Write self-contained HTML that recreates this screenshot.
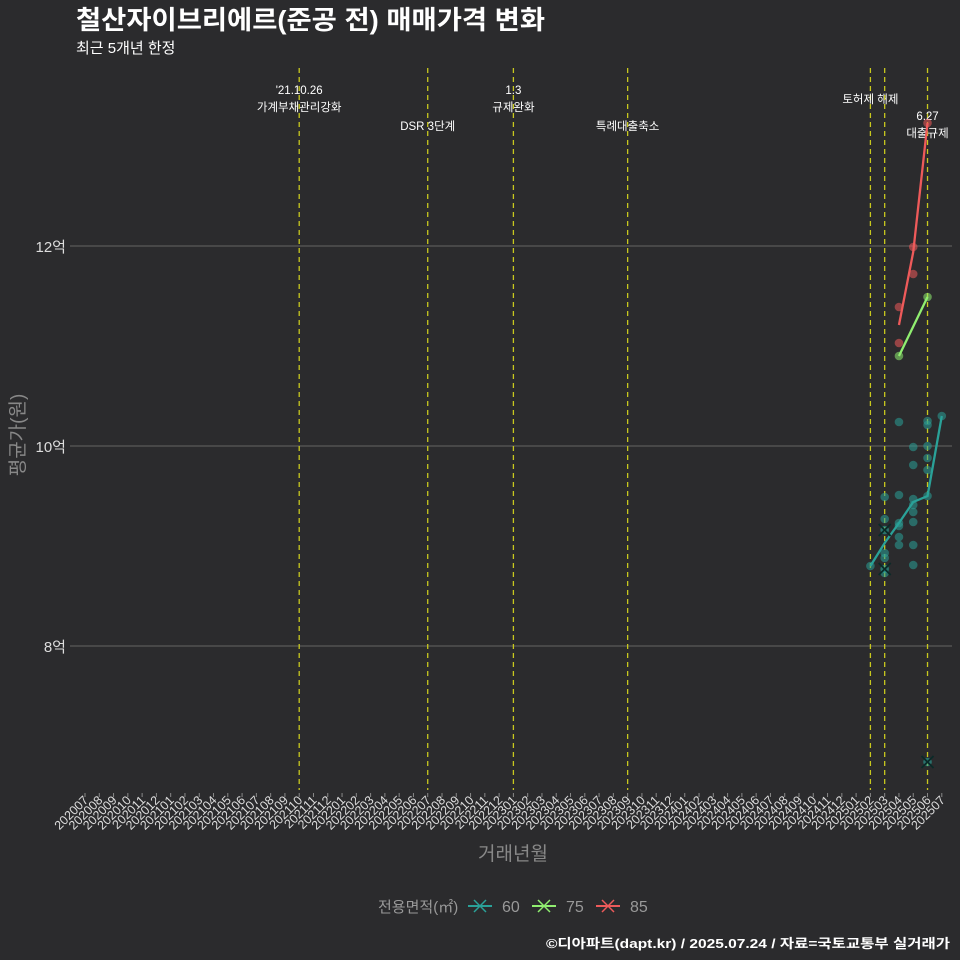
<!DOCTYPE html>
<html><head><meta charset="utf-8">
<style>
html,body{margin:0;padding:0;background:#2b2b2d;}
svg{display:block;font-family:"Liberation Sans","Noto Sans CJK KR",sans-serif;}
</style></head>
<body>
<svg id="chart" width="960" height="960" viewBox="0 0 960 960">
<rect width="960" height="960" fill="#2b2b2d"/>
<text x="76" y="29" font-size="26" font-weight="bold" fill="#ffffff" textLength="469" lengthAdjust="spacingAndGlyphs">철산자이브리에르(준공 전) 매매가격 변화</text>
<text x="76" y="53" font-size="15" fill="#ffffff">최근 5개년 한정</text>
<g id="grid"></g><g id="vlines"></g><g id="marks"></g><g id="axes"></g>
<text x="0" y="0" transform="translate(24,435) rotate(-90)" text-anchor="middle" font-size="19" fill="#888">평균가(원)</text>
<text x="513" y="860" text-anchor="middle" font-size="19" fill="#888">거래년월</text>
<g>
<text x="378" y="912" font-size="15" fill="#999">전용면적(㎡)</text>
<g id="legend"></g>
</g>
<text x="950" y="948" text-anchor="end" font-size="13" font-weight="bold" fill="#ffffff" textLength="404" lengthAdjust="spacingAndGlyphs">©디아파트(dapt.kr) / 2025.07.24 / 자료=국토교통부 실거래가</text>
</svg>
<script>
const months = [];
for (let y = 2020, m = 7; !(y === 2025 && m === 8); ) { months.push('' + y + (m < 10 ? '0' : '') + m); m++; if (m > 12) { m = 1; y++; } }
const yTicks = [8, 10, 12];
const yTickLabels = ['8억', '10억', '12억'];
const eventMonths = ['202110', '202207', '202301', '202309', '202502', '202503', '202506'];
const eventLabels = [["'21.10.26", '가계부채관리강화'], ['DSR 3단계'], ['1.3', '규제완화'], ['특례대출축소'], ['토허제 해제'], [], ['6.27', '대출규제']];
const eventLabelY = [90, 126, 90, 126, 99, 0, 116];
const seriesNames = ['60', '75', '85'];
const seriesColors = ['#2aa198', '#90ee70', '#ee5a5a'];
const line60Months = ['202502', '202503', '202504', '202505', '202506', '202507'];
const line60Values = [8.8, 9.03, 9.23, 9.44, 9.5, 10.3];
const line75Months = ['202504', '202506'];
const line75Values = [10.9, 11.49];
const line85Months = ['202504', '202505', '202506'];
const line85Values = [11.21, 11.94, 13.23];
const pts60Months = ['202502', '202503', '202503', '202503', '202503', '202503', '202504', '202504', '202504', '202504', '202504', '202504', '202505', '202505', '202505', '202505', '202505', '202505', '202505', '202505', '202506', '202506', '202506', '202506', '202506', '202506', '202507'];
const pts60Values = [8.8, 9.49, 9.27, 8.93, 8.88, 8.73, 10.24, 9.51, 9.23, 9.2, 9.09, 9.01, 9.99, 9.81, 9.47, 9.41, 9.34, 9.24, 9.01, 8.81, 10.25, 10.21, 10.0, 9.88, 9.76, 9.5, 10.3];
const pts75Months = ['202504', '202506'];
const pts75Values = [10.9, 11.49];
const pts85Months = ['202504', '202504', '202505', '202505', '202506'];
const pts85Values = [11.39, 11.03, 11.99, 11.72, 13.23];
const cancelMonths = ['202503', '202503', '202506'];
const cancelValues = [9.16, 8.77, 6.84];

const NS = 'http://www.w3.org/2000/svg';
const X0 = 85, DX = 14.28, PT = 68, PB = 790, PL = 70, PR = 952;
function xs(mo) { return X0 + months.indexOf(mo) * DX; }
function ys(v) { return 446 - (v - 10) * 100; }
function mk(tag, attrs, parent) { const e = document.createElementNS(NS, tag); for (const k in attrs) e.setAttribute(k, attrs[k]); parent.appendChild(e); return e; }
const grid = document.getElementById('grid'), vl = document.getElementById('vlines'), marks = document.getElementById('marks'), axes = document.getElementById('axes');

yTicks.forEach((t, i) => {
  const l = mk('line', {x1: PL, x2: PR, y1: ys(t), y2: ys(t), stroke: '#5a5a5a', 'stroke-width': 1.2}, grid);
  
  
  const tx = mk('text', {x: 66, y: ys(t) + 6, 'text-anchor': 'end', 'font-size': 15, fill: '#dddddd'}, axes);
  tx.textContent = yTickLabels[i];
  
  
});
months.forEach(mo => {
  const x = xs(mo);
  const t = mk('line', {x1: x, x2: x, y1: 793, y2: 797, stroke: '#888', 'stroke-width': 1}, axes);
  
  
  const tx = mk('text', {x: 0, y: 0, transform: `translate(${x + 4},${801}) rotate(-45)`, 'text-anchor': 'end', 'font-size': 12.5, fill: '#dddddd'}, axes);
  tx.textContent = mo;
  
  
});
eventMonths.forEach((mo, i) => {
  const x = xs(mo);
  const l = mk('line', {x1: x, x2: x, y1: PT, y2: PB, stroke: '#c8c81e', 'stroke-width': 1.3, 'stroke-dasharray': '5,4'}, vl);
  
  
  eventLabels[i].forEach((s, j) => {
    const tx = mk('text', {x: x, y: eventLabelY[i] + 4 + j * 17, 'text-anchor': 'middle', 'font-size': 11.5, fill: '#ffffff'}, vl);
    tx.textContent = s;
    
    
  });
});
function pts(ms, vs, c) {
  ms.forEach((mo, i) => {
    const p = mk('circle', {cx: xs(mo), cy: ys(vs[i]), r: 4.3, fill: c, 'fill-opacity': 0.55}, marks);
    
    
  });
}
function line(ms, vs, c) {
  const p = mk('polyline', {points: ms.map((mo, i) => xs(mo) + ',' + ys(vs[i])).join(' '), fill: 'none', stroke: c, 'stroke-width': 2.3}, marks);
  
  
}
pts(pts60Months, pts60Values, seriesColors[0]);
pts(pts75Months, pts75Values, seriesColors[1]);
pts(pts85Months, pts85Values, seriesColors[2]);
line(line60Months, line60Values, seriesColors[0]);
line(line75Months, line75Values, seriesColors[1]);
line(line85Months, line85Values, seriesColors[2]);
cancelMonths.forEach((mo, i) => {
  const x = xs(mo), y = ys(cancelValues[i]);
  mk('circle', {cx: x, cy: y, r: 4.3, fill: seriesColors[0], 'fill-opacity': 0.6}, marks);
  const g = mk('path', {d: `M${x - 6},${y - 6}L${x + 6},${y + 6}M${x - 6},${y + 6}L${x + 6},${y - 6}`, stroke: '#0a2a28', 'stroke-width': 1.8}, marks);
  
  
});
const lg = document.getElementById('legend');
const lx = [468, 532, 596];
seriesNames.forEach((n, i) => {
  const x = lx[i], y = 906, c = seriesColors[i];
  const g = mk('g', {}, lg);
  
  
  mk('line', {x1: x, x2: x + 24, y1: y, y2: y, stroke: c, 'stroke-width': 2}, g);
  mk('path', {d: `M${x + 6},${y - 6}L${x + 18},${y + 6}M${x + 6},${y + 6}L${x + 18},${y - 6}`, stroke: c, 'stroke-width': 1.5}, g);
  const t = mk('text', {x: x + 34, y: y + 6, 'font-size': 16, fill: '#999'}, g);
  t.textContent = n;
});
</script>
</body></html>
